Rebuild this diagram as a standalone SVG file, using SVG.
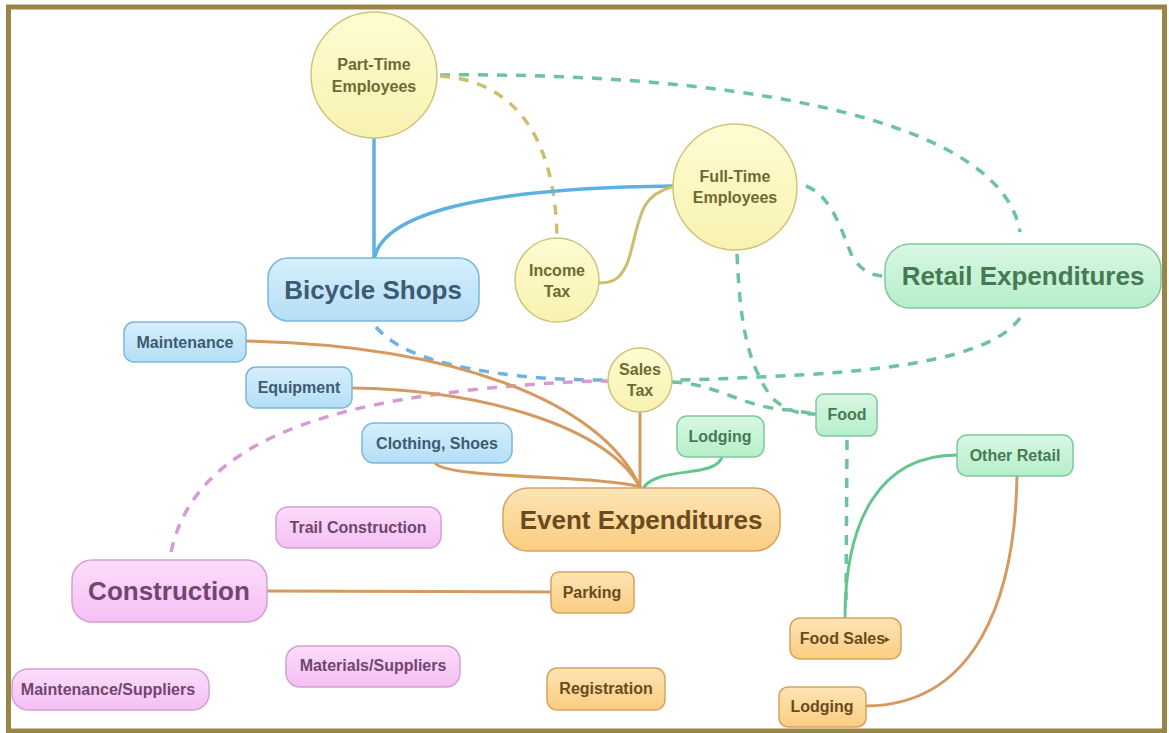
<svg xmlns="http://www.w3.org/2000/svg" width="1169" height="733" viewBox="0 0 1169 733">
<defs>
<linearGradient id="gBlue" x1="0" y1="0" x2="0" y2="1"><stop offset="0" stop-color="#d6effc"/><stop offset="1" stop-color="#b4def6"/></linearGradient>
<linearGradient id="gGreen" x1="0" y1="0" x2="0" y2="1"><stop offset="0" stop-color="#d8f8e4"/><stop offset="1" stop-color="#b6eec9"/></linearGradient>
<linearGradient id="gOrange" x1="0" y1="0" x2="0" y2="1"><stop offset="0" stop-color="#fde4b4"/><stop offset="1" stop-color="#fbcd80"/></linearGradient>
<linearGradient id="gPink" x1="0" y1="0" x2="0" y2="1"><stop offset="0" stop-color="#fcdcfb"/><stop offset="1" stop-color="#f5c0f3"/></linearGradient>
<linearGradient id="gYellow" x1="0" y1="0" x2="0" y2="1"><stop offset="0" stop-color="#fefcd2"/><stop offset="1" stop-color="#f8f2b0"/></linearGradient>
</defs>
<style>
text{font-family:"Liberation Sans",Arial,sans-serif;font-weight:bold;text-anchor:middle;dominant-baseline:central}
.sm{font-size:16px}
.lg{font-size:26px}
.blue rect{fill:url(#gBlue);stroke:#79b7dd;stroke-width:1.5}
.blue text{fill:#3d5b72}
.green rect{fill:url(#gGreen);stroke:#80c79b;stroke-width:1.5}
.green text{fill:#477a53}
.orange rect{fill:url(#gOrange);stroke:#d6a25f;stroke-width:1.5}
.orange text{fill:#6a4a1e}
.pink rect{fill:url(#gPink);stroke:#d4a0d3;stroke-width:1.5}
.pink text{fill:#70466f}
.yellow ellipse,.yellow circle{fill:url(#gYellow);stroke:#d0c37c;stroke-width:1.5}
.yellow text{fill:#6e6a32}
.c{fill:none;stroke-width:3;stroke-linecap:round}
.co{stroke:#d49a5f}
.cg{stroke:#66c491}
.cb{stroke:#5fb0e2;stroke-width:3.5}
.ck{stroke:#cdbd6e}
.d{fill:none;stroke-width:3.5;stroke-dasharray:10 9}
.dg{stroke:#6cc49d}
.dk{stroke:#cdbd6e}
.db{stroke:#6cb3e3}
.dp{stroke:#d59bd2}
</style>
<rect x="0" y="0" width="1169" height="733" fill="#ffffff"/>
<rect x="8.5" y="7" width="1156" height="724" fill="none" stroke="#9a8548" stroke-width="5"/>

<g id="connectors">
  <!-- dashed -->
  <path class="d dg" d="M 440 75 C 700 72, 1000 110, 1020 232"/>
  <path class="d dk" d="M 440 76 C 505 80, 555 125, 557 238"/>
  <path class="d dg" d="M 806 186 C 832 196, 842 232, 852 256 C 861 270, 870 276, 885 276"/>
  <path class="d dg" d="M 1020 318 C 990 360, 880 372, 760 377 C 720 379, 690 380, 672 380"/>
  <path class="d dg" d="M 737 254 C 740 320, 746 362, 772 398 C 788 412, 800 414, 816 414"/>
  <path class="d dg" d="M 672 382 C 720 384, 742 408, 790 410 L 816 414"/>
  <path class="d dg" d="M 847 440 L 846 600"/>
  <path class="d db" d="M 376 327 C 400 355, 450 368, 520 376 C 560 380, 590 380, 609 380"/>
  <path class="d dp" d="M 171 552 C 195 440, 330 405, 480 389 C 540 383, 580 381, 609 381"/>
  <!-- solid -->
  <path class="c cb" d="M 374 138 L 374 258"/>
  <path class="c cb" d="M 375 256 C 386 214, 480 188, 672 186"/>
  <path class="c ck" d="M 672 187 C 640 195, 640 218, 630 255 C 623 280, 612 283, 599 283"/>
  <path class="c co" d="M 246 341 C 450 345, 600 400, 640 487"/>
  <path class="c co" d="M 352 388 C 480 390, 605 425, 640 487"/>
  <path class="c co" d="M 435 463 C 445 479, 600 475, 640 487"/>
  <path class="c co" d="M 640 412 L 640 487"/>
  <path class="c cg" d="M 722 457 C 716 478, 660 466, 644 487"/>
  <path class="c co" d="M 267 591 L 551 592"/>
  <path class="c cg" d="M 957 455 C 880 455, 845 520, 845 618"/>
  <path class="c co" d="M 1017 476 C 1015 600, 975 705, 866 706"/>
</g>

<g id="part-time-employees" class="yellow"><circle cx="374" cy="75" r="63"/><text class="sm" x="374" y="64">Part-Time</text><text class="sm" x="374" y="86">Employees</text></g>
<g id="full-time-employees" class="yellow"><ellipse cx="735" cy="187" rx="62" ry="63"/><text class="sm" x="735" y="176">Full-Time</text><text class="sm" x="735" y="197">Employees</text></g>
<g id="income-tax" class="yellow"><circle cx="557" cy="280" r="42"/><text class="sm" x="557" y="270">Income</text><text class="sm" x="557" y="291">Tax</text></g>
<g id="sales-tax" class="yellow"><circle cx="640" cy="380" r="32"/><text class="sm" x="640" y="369">Sales</text><text class="sm" x="640" y="390">Tax</text></g>

<g id="bicycle-shops" class="blue"><rect x="268" y="258" width="211" height="63" rx="20"/><text class="lg" x="373" y="290">Bicycle Shops</text></g>
<g id="maintenance" class="blue"><rect x="124" y="322" width="122" height="40" rx="10"/><text class="sm" x="185" y="342">Maintenance</text></g>
<g id="equipment" class="blue"><rect x="246" y="367" width="106" height="41" rx="10"/><text class="sm" x="299" y="387">Equipment</text></g>
<g id="clothing-shoes" class="blue"><rect x="362" y="423" width="150" height="40" rx="12"/><text class="sm" x="437" y="443">Clothing, Shoes</text></g>

<g id="retail-expenditures" class="green"><rect x="885" y="244" width="276" height="64" rx="25"/><text class="lg" x="1023" y="276">Retail Expenditures</text></g>
<g id="lodging-green" class="green"><rect x="677" y="416" width="87" height="41" rx="10"/><text class="sm" x="720" y="436">Lodging</text></g>
<g id="food" class="green"><rect x="816" y="394" width="61" height="42" rx="8"/><text class="sm" x="847" y="414">Food</text></g>
<g id="other-retail" class="green"><rect x="957" y="435" width="116" height="41" rx="10"/><text class="sm" x="1015" y="455">Other Retail</text></g>

<g id="event-expenditures" class="orange"><rect x="503" y="488" width="277" height="63" rx="25"/><text class="lg" x="641" y="520">Event Expenditures</text></g>
<g id="parking" class="orange"><rect x="551" y="572" width="83" height="41" rx="8"/><text class="sm" x="592" y="592">Parking</text></g>
<g id="registration" class="orange"><rect x="547" y="668" width="118" height="42" rx="10"/><text class="sm" x="606" y="688">Registration</text></g>
<g id="food-sales" class="orange"><rect x="790" y="618" width="111" height="41" rx="10"/><text class="sm" x="845" y="638">Food Sales<tspan font-size="9" dy="1">▸</tspan></text></g>
<g id="lodging-orange" class="orange"><rect x="779" y="687" width="87" height="40" rx="9"/><text class="sm" x="822" y="706">Lodging</text></g>

<g id="construction" class="pink"><rect x="72" y="560" width="195" height="62" rx="20"/><text class="lg" x="169" y="591">Construction</text></g>
<g id="trail-construction" class="pink"><rect x="276" y="507" width="165" height="41" rx="12"/><text class="sm" x="358" y="527">Trail Construction</text></g>
<g id="materials-suppliers" class="pink"><rect x="286" y="646" width="174" height="41" rx="14"/><text class="sm" x="373" y="665">Materials/Suppliers</text></g>
<g id="maintenance-suppliers" class="pink"><rect x="12" y="669" width="197" height="41" rx="16"/><text class="sm" x="108" y="689">Maintenance/Suppliers</text></g>
</svg>
